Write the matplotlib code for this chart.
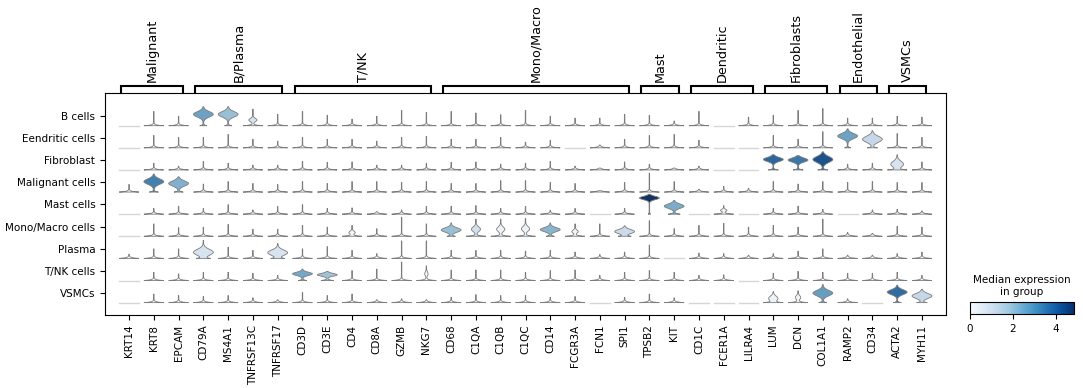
import colorsys
import numpy as np
import matplotlib
matplotlib.use("Agg")
import matplotlib.pyplot as plt
from matplotlib.colors import Normalize
from matplotlib.cm import ScalarMappable

# -----------------------------
# DATA
# -----------------------------
genes = ["KRT14", "KRT8", "EPCAM", "CD79A", "MS4A1", "TNFRSF13C", "TNFRSF17",
         "CD3D", "CD3E", "CD4", "CD8A", "GZMB", "NKG7",
         "CD68", "C1QA", "C1QB", "C1QC", "CD14", "FCGR3A", "FCN1", "SPI1",
         "TPSB2", "KIT", "CD1C", "FCER1A", "LILRA4",
         "LUM", "DCN", "COL1A1", "RAMP2", "CD34", "ACTA2", "MYH11"]

cell_types = ["B cells", "Eendritic cells", "Fibroblast", "Malignant cells",
              "Mast cells", "Mono/Macro cells", "Plasma", "T/NK cells", "VSMCs"]

bracket_labels = ["Malignant", "B/Plasma", "T/NK", "Mono/Macro", "Mast",
                  "Dendritic", "Fibroblasts", "Endothelial", "VSMCs"]
bracket_start = [0, 3, 7, 13, 21, 23, 26, 29, 31]
bracket_end = [2, 6, 12, 20, 22, 25, 28, 30, 32]

# max expression of each violin (relative, 0 = all cells zero)
tops = np.array([
    [0, .75, .5, 1.0, 1.0, .87, .6, .75, .55, .35, .5, .8, .7, .75, .67, .58, .8, .5, .4, .4, .6, .55, .25, .75, 0, .45, .55, .8, .9, .4, .4, .5, .45],
    [0, .65, .55, .55, .7, .45, .35, .55, .45, .45, .35, .55, .6, .45, .45, .55, .3, .4, 0, .15, .45, .65, .7, .4, 0, 0, .65, .45, .85, 1.0, .9, .75, .55],
    [0, .35, .2, .45, .35, .25, .25, .45, .4, .42, .25, .25, .35, .4, .42, .3, .35, .45, .2, .1, .42, .3, .1, .2, 0, 0, .8, .75, .95, .3, .35, .8, .42],
    [.4, .95, .8, .42, .55, .45, .4, .55, .45, .55, .55, .5, .55, .45, .45, .6, .6, .5, .45, .07, .5, 1.0, .55, .15, .3, .2, .55, .42, .55, .5, .55, .5, .5],
    [0, .3, .42, .3, .5, .22, .4, .5, .3, .33, .13, .22, .4, .42, .45, .3, .4, .2, .3, 0, .3, 1.05, .72, 0, .45, 0, .3, .42, .25, 0, .22, .25, .17],
    [0, .65, .45, .48, .62, .37, .37, .57, .48, .57, .4, 1.0, .65, .7, .9, .9, .93, .7, .65, .65, .55, .82, .4, .57, .68, .48, .57, .48, .9, .2, .15, .52, .48],
    [.22, .5, .5, .95, .58, .42, .78, .5, .62, .42, .25, .92, .92, .42, .42, .42, .38, .42, .33, .2, .33, .7, 0, .28, .25, .17, .25, .38, .5, .17, .17, .25, .33],
    [0, .43, .35, .43, .43, .38, .27, .6, .48, .52, .6, .97, .77, .55, .55, .55, .43, .52, .55, .27, .43, .52, .43, .27, .3, 0, .38, .48, .43, .38, .38, .43, .27],
    [0, .45, .37, .32, .37, .25, .15, .53, .37, .45, .15, .2, .15, .28, .42, .37, .37, .28, .32, 0, .28, .45, .25, 0, 0, 0, .58, .62, .95, .2, 0, .92, .7],
])

# expressed violins: row, gene, median, bulk centre, bulk spread, bulk weight, zero weight
blobs = [
    (0, 3, 2.6, .60, .20, 1, .35),
    (0, 4, 2.0, .60, .20, 1, .35),
    (0, 5, 0.9, .30, .12, .4, 1),
    (1, 29, 2.6, .62, .19, 1, .3),
    (1, 30, 1.3, .45, .22, 1, .5),
    (2, 26, 3.8, .55, .15, 1, .5),
    (2, 27, 3.5, .52, .15, 1, .5),
    (2, 28, 4.2, .55, .22, 1, .5),
    (2, 31, 0.9, .30, .22, .7, 1),
    (3, 1, 3.3, .55, .20, 1, .45),
    (3, 2, 2.3, .45, .19, 1, .45),
    (4, 21, 4.85, .85, .12, 1, .1),
    (4, 22, 2.4, .42, .16, 1, .6),
    (4, 24, 0.3, .20, .08, .3, 1),
    (5, 9, 0.2, .20, .10, .3, 1),
    (5, 13, 2.0, .33, .16, 1, .4),
    (5, 14, 1.0, .37, .17, .45, 1),
    (5, 15, 0.3, .37, .17, .4, 1),
    (5, 16, 0.3, .39, .17, .4, 1),
    (5, 17, 2.2, .35, .15, 1, .4),
    (5, 18, 0.2, .25, .11, .3, 1),
    (5, 20, 1.2, .25, .15, 1, .6),
    (6, 3, 0.9, .32, .22, 1, .6),
    (6, 6, 0.9, .30, .20, 1, .6),
    (7, 7, 2.5, .35, .12, 1, .4),
    (7, 8, 1.9, .30, .10, .8, .5),
    (7, 12, 0.1, .35, .14, .15, 1),
    (8, 26, 0.3, .22, .17, .5, 1),
    (8, 27, 0.2, .27, .14, .25, 1),
    (8, 28, 2.7, .50, .20, 1, .4),
    (8, 31, 3.7, .55, .18, 1, .4),
    (8, 32, 1.3, .35, .18, 1, .5),
]

VMAX = 4.85


def desaturate(rgba, prop=0.75):
    h, l, s = colorsys.rgb_to_hls(*rgba[:3])
    return colorsys.hls_to_rgb(h, l, s * prop)


# -----------------------------
# FIGURE
# -----------------------------
W, H = 1083, 388
fig = plt.figure(figsize=(W / 100, H / 100), dpi=100)
FS = 7.5

ax = fig.add_axes([105 / W, (H - 315) / H, (946 - 105) / W, (315 - 93) / H])
cmap = plt.get_cmap("Blues")
norm = Normalize(0, VMAX)

blob_lookup = {(b[0], b[1]): b[2:] for b in blobs}
HALF_W = 0.4
HEIGHT = 0.86
BASE = 0.44

for r in range(len(cell_types)):
    for c in range(len(genes)):
        top = tops[r, c]
        y0 = r + BASE
        if top == 0:
            ax.plot([c - HALF_W, c + HALF_W], [y0, y0], color="#d6d6d6", lw=1.0)
            continue
        med, centre, spread, weight, zero_w = blob_lookup.get((r, c), (0, 0.5, 0.1, 0, 1))
        v = np.linspace(0, top, 150)
        d = zero_w * np.exp(-v / 0.035) + 0.025 + weight * np.exp(-((v - centre) / spread) ** 2)
        hw = HALF_W * d / d.max()
        xs = np.concatenate([c - hw, (c + hw)[::-1]])
        ys = y0 - np.concatenate([v, v[::-1]]) * HEIGHT
        ax.fill(xs, ys, facecolor=desaturate(cmap(norm(med))), edgecolor="#7c7c7c", lw=0.6)

ax.set_xlim(-0.97, len(genes) - 0.03)
ax.set_ylim(len(cell_types), -1.04)
ax.set_xticks(range(len(genes)))
ax.set_xticklabels(genes, rotation=90, fontsize=FS)
ax.set_yticks(range(len(cell_types)))
ax.set_yticklabels(cell_types, fontsize=FS)

# gene group brackets
axb = fig.add_axes([105 / W, (H - 93) / H, (946 - 105) / W, 7 / H])
axb.set_xlim(ax.get_xlim())
axb.set_ylim(0, 1)
axb.axis("off")
for lab, s, e in zip(bracket_labels, bracket_start, bracket_end):
    left, right = s - 0.32, e + 0.18
    axb.plot([left, left, right, right], [0, 1, 1, 0], color="black", lw=1.5,
             solid_joinstyle="miter", clip_on=False)
    axb.annotate(lab, xy=((left + right) / 2, 1), xytext=(0, 3),
                 textcoords="offset points", rotation=90, ha="center", va="bottom",
                 fontsize=9.2)

# colorbar
cax = fig.add_axes([970 / W, (H - 314) / H, 104 / W, 12 / H])
cb = fig.colorbar(ScalarMappable(norm=norm, cmap=cmap), cax=cax, orientation="horizontal")
cb.set_ticks([0, 2, 4])
cax.tick_params(labelsize=FS)
cb.outline.set_linewidth(0.8)
cax.set_title("Median expression\nin group", fontsize=FS, pad=5)

fig.savefig("out.png", dpi=100)
